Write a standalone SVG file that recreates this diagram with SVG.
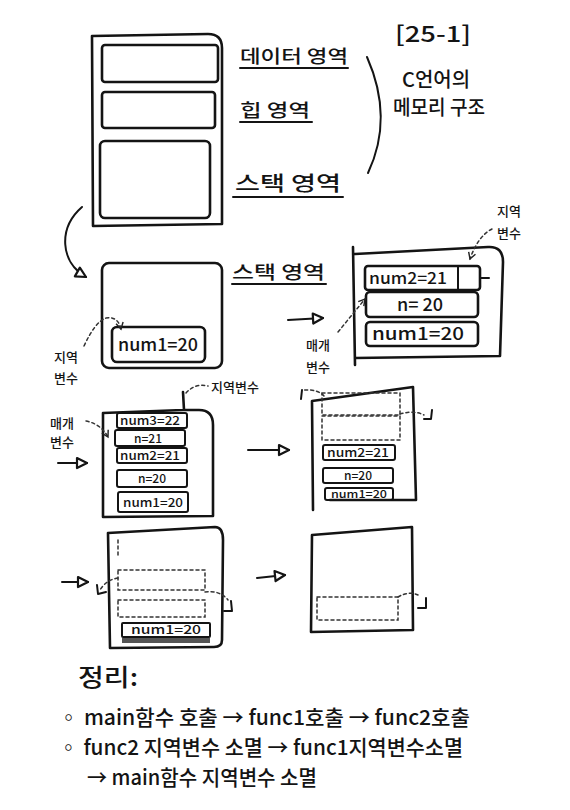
<svg xmlns="http://www.w3.org/2000/svg" width="570" height="810" viewBox="0 0 570 810">
<style>
.s{fill:none;stroke:#141414;stroke-width:2.6;stroke-linecap:round;stroke-linejoin:round}
.t{fill:none;stroke:#141414;stroke-width:2;stroke-linecap:round;stroke-linejoin:round}
.d{fill:none;stroke:#333;stroke-width:1.5;stroke-dasharray:3 3;stroke-linecap:round}
.txt{font-family:"Noto Sans CJK KR","Noto Sans",sans-serif;fill:#141414;font-weight:500}
.lbl{font-size:18px}
.row{font-size:12px;text-anchor:middle}
.sm{font-size:13px;text-anchor:middle}
</style>
<defs>
<marker id="tri" viewBox="0 0 14 14" refX="12" refY="7" markerWidth="14" markerHeight="14" markerUnits="userSpaceOnUse" orient="auto">
<path d="M2,2 L12,7 L2,12 Z" fill="#fff" stroke="#141414" stroke-width="2.2" stroke-linejoin="round"/>
</marker>
<marker id="chev" viewBox="0 0 10 10" refX="8" refY="5" markerWidth="9" markerHeight="9" markerUnits="userSpaceOnUse" orient="auto">
<path d="M1,1 L8,5 L1,9" fill="none" stroke="#222" stroke-width="1.6"/>
</marker>
</defs>
<rect width="570" height="810" fill="#fff"/>

<g id="memory-layout">
<path class="s" d="M92,36 L208,34 Q222,34 222,48 L222,224 L93,226 Z"/>
<rect class="s" x="102" y="45" width="116" height="37" rx="3"/>
<rect class="s" x="102" y="92" width="113" height="36" rx="3"/>
<rect class="s" x="100" y="141" width="110" height="77" rx="5"/>
<text class="txt lbl" x="240" y="63" textLength="108" lengthAdjust="spacingAndGlyphs">데이터 영역</text>
<line class="t" x1="240" y1="68" x2="348" y2="68"/>
<text class="txt lbl" x="240" y="117" textLength="70" lengthAdjust="spacingAndGlyphs">힙 영역</text>
<line class="t" x1="240" y1="122" x2="312" y2="122"/>
<text class="txt" font-size="20" x="235" y="191" textLength="106" lengthAdjust="spacingAndGlyphs">스택 영역</text>
<line class="t" x1="233" y1="197" x2="343" y2="197"/>
</g>

<g id="title">
<path class="t" d="M367,57 Q394,118 368,173"/>
<text class="txt" font-size="22" x="433" y="42" text-anchor="middle" textLength="76" lengthAdjust="spacingAndGlyphs">[25-1]</text>
<text class="txt" font-size="20" x="436" y="87" text-anchor="middle" textLength="68" lengthAdjust="spacingAndGlyphs">C언어의</text>
<text class="txt" font-size="20" x="439" y="115" text-anchor="middle" textLength="92" lengthAdjust="spacingAndGlyphs">메모리 구조</text>
</g>

<g id="stack-main">
<rect class="s" x="102" y="263" width="120" height="105" rx="7"/>
<rect class="s" x="112" y="327" width="93" height="35" rx="5"/>
<text class="txt" font-size="17" x="158" y="351" text-anchor="middle" textLength="80" lengthAdjust="spacingAndGlyphs">num1=20</text>
<text class="txt sm" x="66" y="362">지역</text>
<text class="txt sm" x="66" y="383">변수</text>
<text class="txt lbl" x="232" y="279" textLength="93" lengthAdjust="spacingAndGlyphs">스택 영역</text>
<line class="t" x1="232" y1="284" x2="326" y2="284"/>
</g>

<g id="stack-func1">
<path class="s" d="M353,247 L355,365 M355,254 L488,247 Q503,246 503,262 L500,356 L355,358"/>
<rect class="s" x="365" y="266" width="115" height="24" rx="3"/>
<line class="t" x1="458" y1="266" x2="458" y2="290"/>
<line class="t" x1="480" y1="278" x2="489" y2="278"/>
<text class="txt" font-size="16" x="408" y="284" text-anchor="middle" textLength="78" lengthAdjust="spacingAndGlyphs">num2=21</text>
<rect class="s" x="366" y="292" width="112" height="25" rx="4"/>
<text class="txt" font-size="18" x="420" y="311" text-anchor="middle">n= 20</text>
<rect class="s" x="366" y="322" width="112" height="24" rx="4"/>
<text class="txt" font-size="17" x="418" y="340" text-anchor="middle" textLength="92" lengthAdjust="spacingAndGlyphs">num1=20</text>
<text class="txt sm" x="318" y="350">매개</text>
<text class="txt sm" x="318" y="372">변수</text>
<text class="txt sm" x="509" y="216">지역</text>
<text class="txt sm" x="509" y="238">변수</text>
</g>

<g id="stack-func2">
<path class="s" d="M103,413 L103,517 L213,516 L213,425 Q213,410 199,410 L183,410 L103,413 M183,392 L184,410"/>
<rect class="t" x="117" y="413" width="70" height="15" rx="2"/>
<text class="txt row" x="150" y="425" textLength="60" lengthAdjust="spacingAndGlyphs">num3=22</text>
<rect class="t" x="115" y="430" width="70" height="16" rx="2"/>
<text class="txt row" x="148" y="443">n=21</text>
<rect class="t" x="117" y="448" width="70" height="15" rx="2"/>
<text class="txt row" x="150" y="460" textLength="60" lengthAdjust="spacingAndGlyphs">num2=21</text>
<rect class="t" x="117" y="470" width="70" height="17" rx="2"/>
<text class="txt row" x="152" y="483">n=20</text>
<rect class="t" x="118" y="492" width="70" height="20" rx="2"/>
<text class="txt row" x="153" y="507" textLength="60" lengthAdjust="spacingAndGlyphs">num1=20</text>
<text class="txt sm" x="62" y="428">매개</text>
<text class="txt sm" x="62" y="447">변수</text>
<text class="txt" font-size="13" x="211" y="392">지역변수</text>
</g>

<g id="stack-after-func2">
<path class="s" d="M313,510 L312,401 L413,387 L416,500 L330,500"/>
<rect class="d" x="322" y="393" width="78" height="22"/>
<rect class="d" x="322" y="416" width="78" height="24"/>
<path class="d" d="M324,396 Q318,389 302,390"/>
<path class="t" d="M302,390 L301,399"/>
<path class="d" d="M400,414 Q414,410 424,415"/>
<path class="t" d="M432,410 L431,419 L424,419"/>
<rect class="t" x="323" y="445" width="72" height="15" rx="2"/>
<text class="txt row" x="358" y="457" textLength="62" lengthAdjust="spacingAndGlyphs">num2=21</text>
<rect class="t" x="323" y="468" width="70" height="15" rx="2"/>
<text class="txt row" x="358" y="480">n=20</text>
<rect class="t" x="325" y="488" width="68" height="12" rx="2"/>
<text class="txt" font-size="11" x="359" y="498" text-anchor="middle" textLength="56" lengthAdjust="spacingAndGlyphs">num1=20</text>
</g>

<g id="stack-after-func1">
<path class="s" d="M108,533 L215,527 Q223,527 223,540 L222,640 Q222,647 214,647 L110,648 Z"/>
<rect class="d" x="118" y="570" width="87" height="20"/>
<rect class="d" x="118" y="600" width="87" height="17"/>
<line class="d" x1="118" y1="540" x2="118" y2="555"/>
<rect class="t" x="122" y="623" width="88" height="14" rx="1"/>
<text class="txt" font-size="12" x="166" y="634" text-anchor="middle" textLength="70" lengthAdjust="spacingAndGlyphs">num1=20</text>
<rect x="122" y="638" width="88" height="5" fill="#555"/>
<path class="d" d="M118,578 Q106,580 100,590"/>
<path class="t" d="M97,585 L98,594 L106,592"/>
<path class="d" d="M205,592 Q220,590 228,600"/>
<path class="t" d="M231,601 L232,611 L224,611"/>
</g>

<g id="stack-after-main">
<path class="s" d="M312,535 L412,527 L413,630 L311,632 Z"/>
<rect class="d" x="317" y="597" width="81" height="23"/>
<path class="d" d="M398,597 Q410,590 420,596"/>
<path class="t" d="M426,598 L426,608 L418,608"/>
</g>

<g id="connectors">
<path class="t" d="M82,207 C58,228 60,262 86,277" marker-end="url(#tri)"/>
<path class="d" d="M84,346 Q95,322 106,318 Q118,316 121,329" marker-end="url(#chev)"/>
<path class="t" d="M288,320 L323,318" marker-end="url(#tri)"/>
<path class="d" d="M338,332 L365,299" marker-end="url(#chev)"/>
<path class="d" d="M492,229 Q478,236 470,259" marker-end="url(#chev)"/>
<path class="d" d="M86,421 Q101,424 108,437" marker-end="url(#chev)"/>
<path class="d" d="M186,393 Q195,383 208,386"/>
<path class="t" d="M58,463 L87,463" marker-end="url(#tri)"/>
<path class="t" d="M248,450 L289,450" marker-end="url(#tri)"/>
<path class="t" d="M62,582 L88,582" marker-end="url(#tri)"/>
<path class="t" d="M257,578 L285,575" marker-end="url(#tri)"/>
</g>

<g id="summary">
<text class="txt" font-size="24" x="78" y="686" textLength="60" lengthAdjust="spacingAndGlyphs">정리:</text>
<text class="txt" font-size="21" x="58" y="725" textLength="412" lengthAdjust="spacingAndGlyphs">◦ main함수 호출 → func1호출 → func2호출</text>
<text class="txt" font-size="21" x="58" y="755" textLength="405" lengthAdjust="spacingAndGlyphs">◦ func2 지역변수 소멸 → func1지역변수소멸</text>
<text class="txt" font-size="21" x="87" y="785" textLength="230" lengthAdjust="spacingAndGlyphs">→ main함수 지역변수 소멸</text>
</g>
</svg>
